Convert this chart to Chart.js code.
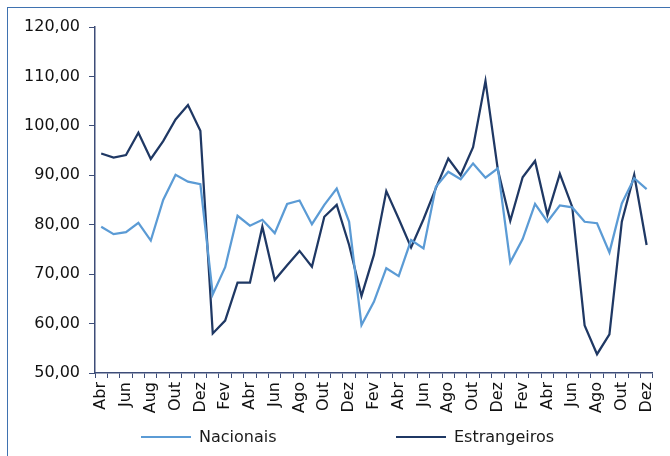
<!DOCTYPE html>
<html>
<head>
<meta charset="utf-8">
<script src="https://cdn.jsdelivr.net/npm/chart.js@4"></script>
<style>
  html, body { margin: 0; padding: 0; background: #fff; }
  #wrap { position: relative; width: 670px; height: 456px; overflow: hidden; font-family: "DejaVu Sans", sans-serif; }
  #frame { position: absolute; left: 7px; top: 7px; width: 700px; height: 500px; border: 1px solid #3f72b0; box-sizing: border-box; pointer-events: none; }
  .leg { position: absolute; top: 427px; font-size: 16px; color: #1a1a1a; line-height: 20px; }
  .leg i { position: absolute; top: 9px; left: 0; width: 50px; height: 2px; }
  .leg span { position: absolute; left: 58px; top: 0; white-space: nowrap; }
</style>
</head>
<body>
<div id="wrap">
  <canvas id="c" width="670" height="456"></canvas>
  <div id="frame"></div>
  <div class="leg" style="left:141px"><i style="background:#5b9bd5"></i><span>Nacionais</span></div>
  <div class="leg" style="left:396px"><i style="background:#1f3864"></i><span>Estrangeiros</span></div>
</div>
<script>
// meses (abr do 1º ano até dez do 4º)
const meses = [
  'Abr','Mai','Jun','Jul','Aug','Set','Out','Nov','Dez',
  'Jan','Fev','Mar','Abr','Mai','Jun','Jul','Ago','Set','Out','Nov','Dez',
  'Jan','Fev','Mar','Abr','Mai','Jun','Jul','Ago','Set','Out','Nov','Dez',
  'Jan','Fev','Mar','Abr','Mai','Jun','Jul','Ago','Set','Out','Nov','Dez'
];
const nacionais = [
  79.6, 78.1, 78.5, 80.4, 76.8, 85.0, 90.1, 88.7, 88.2, 65.9,
  71.4, 81.8, 79.8, 81.0, 78.3, 84.2, 84.9, 80.1, 84.0, 87.3,
  80.6, 59.7, 64.4, 71.2, 69.6, 76.9, 75.2, 87.7, 90.7, 89.2,
  92.4, 89.5, 91.4, 72.4, 77.1, 84.2, 80.6, 83.9, 83.5, 80.6,
  80.3, 74.4, 84.3, 89.4, 87.2
];
const estrangeiros = [
  94.4, 93.6, 94.1, 98.6, 93.3, 96.9, 101.3, 104.2, 99.0, 58.0,
  60.6, 68.3, 68.3, 79.6, 68.8, 71.8, 74.7, 71.5, 81.6, 84.0,
  75.9, 65.6, 73.9, 86.8, 81.2, 75.4, 81.1, 87.4, 93.4, 90.0,
  95.7, 109.1, 91.1, 80.8, 89.6, 92.9, 82.0, 90.3, 83.6, 59.6,
  53.8, 57.8, 80.6, 90.1, 75.9
];
const yMin = 50, yMax = 120, yStep = 10;

const eixo = '#3d4d78';
const fonte = { family: '"DejaVu Sans", sans-serif', size: 16 };

new Chart(document.getElementById('c'), {
  type: 'line',
  data: {
    labels: meses,
    datasets: [
      { label: 'Nacionais', data: nacionais, borderColor: '#5b9bd5', borderWidth: 2.25, pointRadius: 0, tension: 0, fill: false },
      { label: 'Estrangeiros', data: estrangeiros, borderColor: '#1f3864', borderWidth: 2.25, pointRadius: 0, tension: 0, fill: false }
    ]
  },
  options: {
    responsive: false,
    animation: false,
    layout: { padding: { left: 0, right: 17, top: 27, bottom: 0 } },
    plugins: { legend: { display: false }, tooltip: { enabled: false } },
    scales: {
      x: {
        offset: true,
        grid: { offset: true, drawOnChartArea: false, drawTicks: true, tickLength: 5, color: eixo, lineWidth: 1 },
        border: { color: eixo, width: 1.5 },
        ticks: {
          autoSkip: false, maxRotation: 90, minRotation: 90, padding: 4,
          color: '#111', font: fonte,
          callback: (v, i) => (i % 2 === 0 ? meses[i] : '')
        },
        afterFit: (s) => { s.height = 83; }
      },
      y: {
        min: yMin, max: yMax,
        grid: { drawOnChartArea: false, drawTicks: true, tickLength: 6, color: eixo },
        border: { color: eixo, width: 1.5 },
        ticks: {
          stepSize: yStep, padding: 9, color: '#111', font: fonte,
          callback: (v) => v.toFixed(2).replace('.', ',')
        },
        afterFit: (s) => { s.width = 95; }
      }
    }
  }
});
</script>
</body>
</html>
